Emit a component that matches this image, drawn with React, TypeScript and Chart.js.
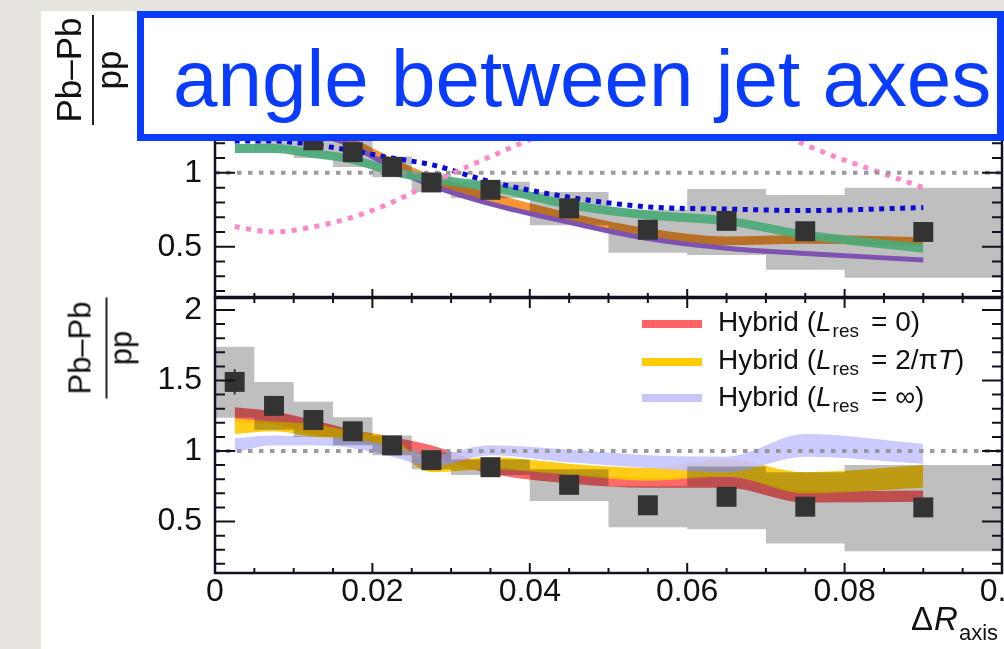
import React, { useEffect, useRef } from "react";
import { Chart, registerables } from "chart.js";

Chart.register(...registerables);

const FONT = "'Liberation Sans', Arial, Helvetica, sans-serif";

// ---- x axis: Delta R_axis bins ----
const binEdges = [0, 0.005, 0.01, 0.015, 0.02, 0.025, 0.03, 0.04, 0.05, 0.06, 0.07, 0.08, 0.1];
const binCenters = [0.0025, 0.0075, 0.0125, 0.0175, 0.0225, 0.0275, 0.035, 0.045, 0.055, 0.065, 0.075, 0.09];
const xTickValues = [0, 0.02, 0.04, 0.06, 0.08, 0.1];
const xTickLabels = ["0", "0.02", "0.04", "0.06", "0.08", "0.1"];
const yTickValues = [0.5, 1, 1.5, 2];
const yTickLabels = ["0.5", "1", "1.5", "2"];

// ---- measured Pb-Pb / pp ratio ----
const dataValues = [1.49, 1.32, 1.22, 1.14, 1.04, 0.935, 0.885, 0.76, 0.615, 0.675, 0.605, 0.6];
const statErrors = [0.09, 0.05, 0.04, 0.03, 0.03, 0.03, 0.02, 0.03, 0.04, 0.05, 0.05, 0.05];
const sysLow = [1.235, 1.15, 1.1, 1.04, 0.97, 0.87, 0.83, 0.645, 0.46, 0.445, 0.345, 0.29];
const sysHigh = [1.74, 1.49, 1.35, 1.24, 1.11, 0.99, 0.94, 0.87, 0.75, 0.89, 0.85, 0.9];

// ---- top panel models ----
const greenLow = [1.135, 1.135, 1.1, 1.06, 0.98, 0.93, 0.875, 0.755, 0.685, 0.645, 0.55, 0.46];
const greenHigh = [1.195, 1.195, 1.16, 1.12, 1.04, 0.99, 0.935, 0.815, 0.745, 0.705, 0.61, 0.52];
const orangeLow = [1.3, 1.27, 1.24, 1.17, 1.04, 0.925, 0.805, 0.67, 0.565, 0.51, 0.52, 0.505];
const orangeHigh = [1.36, 1.33, 1.3, 1.23, 1.1, 0.985, 0.865, 0.73, 0.625, 0.57, 0.58, 0.565];
const purpleLine = [1.34, 1.31, 1.27, 1.18, 1.035, 0.915, 0.79, 0.665, 0.555, 0.49, 0.455, 0.41];
const blueDotted = [1.215, 1.215, 1.19, 1.15, 1.1, 1.055, 0.94, 0.835, 0.77, 0.755, 0.745, 0.765];
const pinkDotted = [0.635, 0.6, 0.635, 0.7, 0.8, 0.93, 1.11, 1.33, 1.48, 1.45, 1.19, 0.9];

// ---- bottom panel: Hybrid model bands ----
const redLow = [1.2, 1.19, 1.12, 1.07, 1.02, 0.96, 0.84, 0.77, 0.74, 0.74, 0.635, 0.64];
const redHigh = [1.31, 1.28, 1.22, 1.15, 1.1, 1.04, 0.9, 0.84, 0.81, 0.82, 0.715, 0.72];
const yellowLow = [1.12, 1.14, 1.1, 1.07, 1.01, 0.85, 0.87, 0.83, 0.79, 0.82, 0.7, 0.74];
const yellowHigh = [1.23, 1.21, 1.19, 1.14, 1.09, 0.91, 0.955, 0.91, 0.88, 0.94, 0.85, 0.9];
const lavenderLow = [0.99, 1.04, 1.04, 1.02, 0.96, 0.89, 0.97, 0.92, 0.88, 0.85, 0.96, 0.91];
const lavenderHigh = [1.09, 1.11, 1.1, 1.09, 1.03, 0.97, 1.04, 1.01, 0.97, 0.96, 1.12, 1.05];

const unityX = [0, 0.1];
const unityY = [1, 1];

const pts = (xs: number[], ys: number[]) => xs.map((x, i) => ({ x, y: ys[i] }));
const stepPts = (ys: number[]) =>
  binEdges.map((x, i) => ({ x, y: ys[Math.min(i, ys.length - 1)] }));

const smooth = { cubicInterpolationMode: "monotone", tension: 0.4, pointRadius: 0 };

function band(lo: number[], hi: number[], color: string, order: number) {
  return [
    { ...smooth, data: pts(binCenters, lo), borderWidth: 0, borderColor: "transparent", fill: false, order },
    { ...smooth, data: pts(binCenters, hi), borderWidth: 0, borderColor: "transparent", backgroundColor: color, fill: "-1", order: order - 1 },
  ];
}

function boxes(order: number) {
  return [
    { data: stepPts(sysLow), stepped: true, pointRadius: 0, borderWidth: 0, borderColor: "transparent", fill: false, order },
    { data: stepPts(sysHigh), stepped: true, pointRadius: 0, borderWidth: 0, borderColor: "transparent", backgroundColor: "rgba(0,0,0,0.25)", fill: "-1", order: order - 1 },
  ];
}

function dotted(ys: number[], color: string, order: number, dash: number[], width: number) {
  return { ...smooth, data: pts(binCenters, ys), borderColor: color, borderWidth: width, borderDash: dash, fill: false, order };
}

const unity = (order: number) => ({
  data: pts(unityX, unityY), borderColor: "rgba(150,150,150,0.95)", borderWidth: 4, borderDash: [4.5, 6.5], pointRadius: 0, fill: false, order,
});

const squares = (order: number) => ({
  data: pts(binCenters, dataValues), showLine: false, pointStyle: "rect", pointRadius: 14.1,
  pointBackgroundColor: "#333333", pointBorderWidth: 0, pointBorderColor: "#333333", order,
});

const rootFrame = {
  id: "rootFrame",
  afterDatasetsDraw(chart: any, _args: any, opts: any) {
    const { ctx, chartArea: a } = chart;
    const x = chart.scales.x;
    const y = chart.scales.y;
    // statistical error bars
    ctx.save();
    ctx.beginPath();
    ctx.rect(a.left, a.top, a.right - a.left, a.bottom - a.top);
    ctx.clip();
    ctx.strokeStyle = "#333333";
    ctx.lineWidth = 2;
    ctx.beginPath();
    binCenters.forEach((c, i) => {
      const px = x.getPixelForValue(c);
      ctx.moveTo(px, y.getPixelForValue(dataValues[i] - statErrors[i]));
      ctx.lineTo(px, y.getPixelForValue(dataValues[i] + statErrors[i]));
    });
    ctx.stroke();
    ctx.restore();

    // frame with inward ticks
    ctx.save();
    ctx.strokeStyle = "#121220";
    ctx.lineWidth = 2;
    ctx.beginPath();
    for (let i = 0; i <= 20; i++) {
      const px = x.getPixelForValue(i * 0.005);
      const len = i % 4 === 0 ? opts.xMajor : opts.xMinor;
      ctx.moveTo(px, a.bottom);
      ctx.lineTo(px, a.bottom - len);
      ctx.moveTo(px, a.top);
      ctx.lineTo(px, a.top + len);
    }
    for (let i = Math.ceil(y.min * 10); i <= Math.floor(y.max * 10); i++) {
      const py = y.getPixelForValue(i / 10);
      const len = i % 5 === 0 ? opts.yMajor : opts.yMinor;
      ctx.moveTo(a.left, py);
      ctx.lineTo(a.left + len, py);
      ctx.moveTo(a.right, py);
      ctx.lineTo(a.right - len, py);
    }
    ctx.stroke();
    ctx.lineWidth = 2.5;
    ctx.strokeRect(a.left, a.top, a.right - a.left, a.bottom - a.top);
    ctx.restore();
  },
};

function yScale(min: number, max: number) {
  return {
    type: "linear", position: "left", min, max,
    grid: { display: false, drawTicks: false },
    border: { display: false },
    afterBuildTicks: (s: any) => { s.ticks = yTickValues.map((v) => ({ value: v })); },
    afterFit: (s: any) => { s.width = 215; s.paddingTop = 0; s.paddingBottom = 0; },
    ticks: { padding: 13, color: "#111111", font: { family: FONT, size: 32 }, callback: (_v: any, i: number) => yTickLabels[i] },
  };
}

function xScale(show: boolean) {
  return {
    type: "linear", min: 0, max: 0.1, display: show,
    grid: { display: false, drawTicks: false },
    border: { display: false },
    afterBuildTicks: (s: any) => { s.ticks = xTickValues.map((v) => ({ value: v })); },
    afterFit: (s: any) => { s.height = show ? 76 : 0; s.paddingLeft = 0; s.paddingRight = 0; },
    ticks: { autoSkip: false, maxRotation: 0, minRotation: 0, padding: 0, color: "#111111", font: { family: FONT, size: 32 }, callback: (_v: any, i: number) => xTickLabels[i] },
  };
}

function baseOptions(padding: any, yMin: number, yMax: number, showX: boolean, frame: any) {
  return {
    animation: false, responsive: false, maintainAspectRatio: false, devicePixelRatio: 1, events: [],
    layout: { padding, autoPadding: false },
    plugins: { legend: { display: false }, tooltip: { enabled: false }, rootFrame: frame },
    scales: { x: xScale(showX), y: yScale(yMin, yMax) },
  };
}

function FracLabel(p: { cx: number; cy: number; w: number; h: number; size: number; numTop: number; lineTop: number; denTop: number }) {
  const txt = { position: "absolute" as const, left: 0, width: p.w, textAlign: "center" as const, fontSize: p.size, lineHeight: `${p.size}px`, whiteSpace: "nowrap" as const, color: "#111" };
  return (
    <div style={{ position: "absolute", left: p.cx - p.w / 2, top: p.cy - p.h / 2, width: p.w, height: p.h, transform: "rotate(-90deg)", transformOrigin: "50% 50%" }}>
      <div style={{ ...txt, top: p.numTop }}>Pb–Pb</div>
      <div style={{ position: "absolute", left: 0, top: p.lineTop, width: p.w, height: 2, background: "#222" }} />
      <div style={{ ...txt, top: p.denTop }}>pp</div>
    </div>
  );
}

function LegendRow(p: { top: number; color: string; swatchY: number; children: React.ReactNode }) {
  return (
    <>
      <div style={{ position: "absolute", left: 642, top: p.swatchY - 4, width: 60, height: 8, background: p.color }} />
      <div style={{ position: "absolute", left: 718, top: p.top, fontSize: 28, lineHeight: "28px", whiteSpace: "nowrap", color: "#111" }}>
        {p.children}
      </div>
    </>
  );
}

const Sub = ({ children }: { children: React.ReactNode }) => (
  <span style={{ fontSize: 19, position: "relative", top: 6, marginLeft: 1 }}>{children}</span>
);

export default function App() {
  const topRef = useRef<HTMLCanvasElement>(null);
  const botRef = useRef<HTMLCanvasElement>(null);

  useEffect(() => {
    const topChart = new Chart(topRef.current as HTMLCanvasElement, {
      type: "line",
      data: { datasets: [
        ...band(orangeLow, orangeHigh, "rgba(244,143,40,0.95)", 100),
        ...boxes(90),
        { ...smooth, data: pts(binCenters, purpleLine), borderColor: "#7d52b0", borderWidth: 5, fill: false, order: 80 },
        ...band(greenLow, greenHigh, "rgba(76,170,120,0.92)", 76),
        dotted(blueDotted, "#0a0ad8", 60, [5, 5.5], 5),
        dotted(pinkDotted, "#ff86c8", 55, [5, 6.5], 5),
        unity(50),
        squares(1),
      ] as any },
      options: baseOptions({ top: 11, bottom: 8, left: 0, right: 2 }, 0.16, 2.095, false, { xMajor: 8, xMinor: 4, yMajor: 20, yMinor: 10 }) as any,
      plugins: [rootFrame],
    });

    const botChart = new Chart(botRef.current as HTMLCanvasElement, {
      type: "line",
      data: { datasets: [
        ...band(redLow, redHigh, "rgba(255,92,92,0.92)", 100),
        ...band(yellowLow, yellowHigh, "rgba(255,200,0,0.9)", 90),
        ...band(lavenderLow, lavenderHigh, "rgba(196,196,255,0.88)", 80),
        ...boxes(70),
        unity(50),
        squares(1),
      ] as any },
      options: baseOptions({ top: 8, bottom: 0, left: 0, right: 2 }, 0.135, 2.085, true, { xMajor: 10, xMinor: 5, yMajor: 20, yMinor: 10 }) as any,
      plugins: [rootFrame],
    });

    return () => {
      topChart.destroy();
      botChart.destroy();
    };
  }, []);

  return (
    <div style={{ position: "fixed", left: 0, top: 0, width: 1004, height: 649, background: "#e7e4df", overflow: "hidden", fontFamily: FONT }}>
      <div style={{ position: "absolute", left: 41, top: 11, right: 0, bottom: 0, background: "#ffffff" }} />
      <canvas ref={topRef} width={1004} height={305} style={{ position: "absolute", left: 0, top: 0, width: 1004, height: 305 }} />
      <canvas ref={botRef} width={1004} height={359} style={{ position: "absolute", left: 0, top: 290, width: 1004, height: 359 }} />
      <div style={{ position: "absolute", left: 0, top: 0, width: 1004, height: 11, background: "#e7e4df" }} />

      <FracLabel cx={91} cy={70} w={110} h={80} size={35} numTop={0} lineTop={41} denTop={40} />
      <FracLabel cx={100} cy={347.5} w={101} h={80} size={31} numTop={4} lineTop={45} denTop={45} />

      <LegendRow top={308} swatchY={324} color="rgb(255,98,98)">
        Hybrid (<i>L</i><Sub>res</Sub><span style={{ marginLeft: 12 }}>= 0)</span>
      </LegendRow>
      <LegendRow top={346} swatchY={362} color="rgb(255,204,0)">
        Hybrid (<i>L</i><Sub>res</Sub><span style={{ marginLeft: 12 }}>= 2/π<i>T</i>)</span>
      </LegendRow>
      <LegendRow top={383} swatchY={398} color="rgb(200,200,255)">
        Hybrid (<i>L</i><Sub>res</Sub><span style={{ marginLeft: 12 }}>= ∞)</span>
      </LegendRow>

      <div style={{ position: "absolute", left: 911, top: 602, fontSize: 33, lineHeight: "33px", whiteSpace: "nowrap", color: "#111" }}>
        Δ<i style={{ marginLeft: 1 }}>R</i>
        <span style={{ fontSize: 22, position: "relative", top: 10, marginLeft: 1 }}>axis</span>
      </div>

      <div style={{ position: "absolute", left: 137, top: 11, width: 867, height: 130, boxSizing: "border-box", border: "7px solid #0a3cff", background: "#ffffff" }}>
        <span style={{ position: "absolute", left: 29, top: 21, fontSize: 80, lineHeight: "80px", color: "#0a3cff", whiteSpace: "nowrap" }}>
          angle between jet axes
        </span>
      </div>
    </div>
  );
}
